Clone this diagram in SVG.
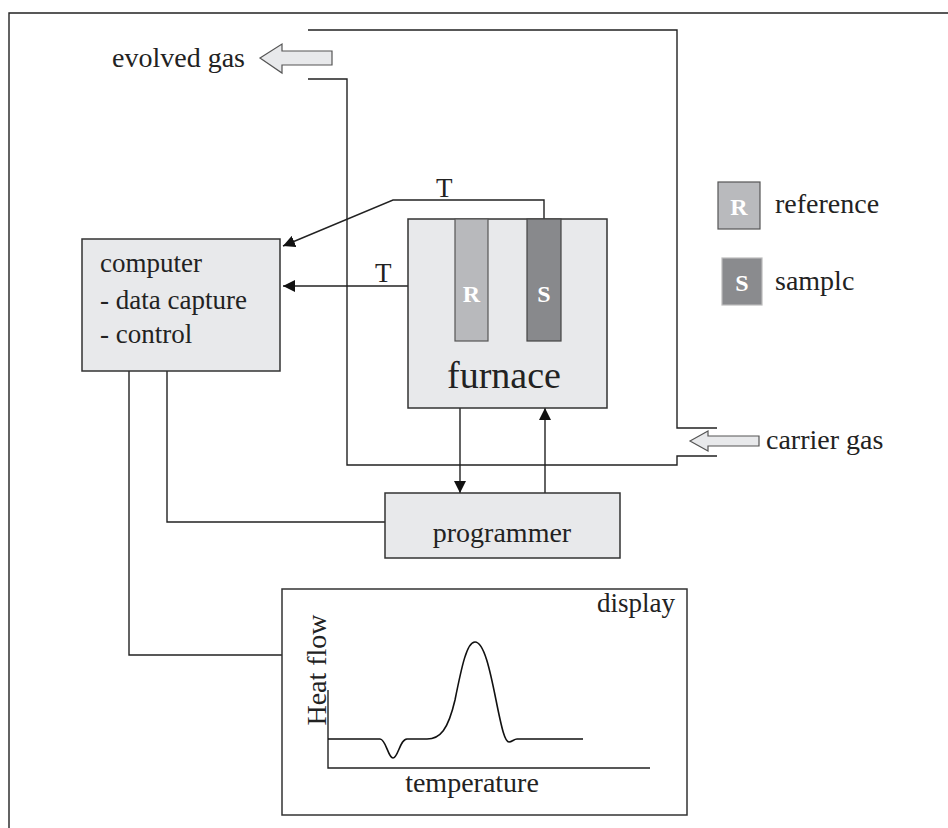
<svg xmlns="http://www.w3.org/2000/svg" width="948" height="828" viewBox="0 0 948 828">
<style>
text{font-family:"Liberation Serif","Times New Roman",serif;fill:#222}
.box{fill:#e8e9eb;stroke:#333;stroke-width:1.5}
.ln{fill:none;stroke:#222;stroke-width:1.4}
.blk{fill:#e8e9eb;stroke:#555;stroke-width:1.2}
.lbl{font-size:27px}
.wl{font-size:24px;font-weight:bold;fill:#fff}
</style>
<defs>
<marker id="ah" viewBox="0 0 10 10" refX="10" refY="5" markerWidth="12" markerHeight="12" markerUnits="userSpaceOnUse" orient="auto">
<path d="M0,0 L10,5 L0,10 z" fill="#111"/>
</marker>
</defs>
<rect width="948" height="828" fill="#fff"/>
<g id="frame">
<path class="ln" d="M9,828 V13 H948"/>
</g>
<g id="connectors">
<path class="ln" d="M308,30 H677 V428 H717"/>
<path class="ln" d="M308,79 H347 V465 H677 V456 H717"/>
<path class="ln" d="M544,219 V200 H393 L283,246" marker-end="url(#ah)"/>
<path class="ln" d="M453,286 H283" marker-end="url(#ah)"/>
<path class="ln" d="M129,371 V655 H282"/>
<path class="ln" d="M167,371 V522 H385"/>
<path class="ln" d="M460,408 V493" marker-end="url(#ah)"/>
<path class="ln" d="M545,493 V408" marker-end="url(#ah)"/>
<text class="lbl" x="436" y="197">T</text>
<text class="lbl" x="375" y="282">T</text>
</g>
<g id="evolved-gas">
<path class="blk" d="M260,58 L282,44 V51 H332 V65 H282 V73 z"/>
<text x="112" y="67" font-size="28">evolved gas</text>
</g>
<g id="carrier-gas">
<path class="blk" d="M690,441 L708,431 V436 H759 V446 H708 V451 z"/>
<text x="766" y="449" font-size="28">carrier gas</text>
</g>
<g id="furnace">
<rect class="box" x="408" y="219" width="199" height="189"/>
<rect x="455" y="219" width="33" height="122" fill="#b8b9bc" stroke="#555" stroke-width="1.2"/>
<rect x="527" y="219" width="34" height="122" fill="#88898c" stroke="#444" stroke-width="1.2"/>
<text class="wl" x="471.5" y="302" text-anchor="middle">R</text>
<text class="wl" x="544" y="302" text-anchor="middle">S</text>
<text x="504" y="388" font-size="38" text-anchor="middle">furnace</text>
</g>
<g id="computer">
<rect class="box" x="82" y="239" width="198" height="132"/>
<text class="lbl" x="100" y="272">computer</text>
<text class="lbl" x="100" y="309">- data capture</text>
<text class="lbl" x="100" y="343">- control</text>
</g>
<g id="programmer">
<rect class="box" x="385" y="493" width="235" height="65"/>
<text x="502" y="542" font-size="28" text-anchor="middle">programmer</text>
</g>
<g id="legend">
<rect x="718" y="182" width="42" height="47" fill="#b9babd" stroke="#555" stroke-width="1.2"/>
<text class="wl" x="739" y="215" text-anchor="middle">R</text>
<text x="775" y="213" font-size="28">reference</text>
<rect x="722" y="258" width="40" height="47" fill="#8a8b8e" stroke="#bbb" stroke-width="1.2"/>
<text class="wl" x="742" y="291" text-anchor="middle">S</text>
<text x="775" y="290" font-size="28">samplc</text>
</g>
<g id="display">
<rect x="282" y="589" width="405" height="226" fill="#fff" stroke="#333" stroke-width="1.5"/>
<text class="lbl" x="675" y="612" text-anchor="end">display</text>
<path class="ln" d="M328,690 V768 H650"/>
<path fill="none" stroke="#111" stroke-width="1.6" d="M328,739 H380 C386,739 388,758 393,758 C398,758 400,739 407,739 H427 C440,739 448,730 455,700 C462,665 467,642 475,642 C484,642 490,670 496,700 C502,730 505,742 509,742 C512,742 514,739 517,739 H583"/>
<text x="472" y="792" font-size="28" text-anchor="middle">temperature</text>
<text x="0" y="0" font-size="28" transform="translate(326,670) rotate(-90)" text-anchor="middle">Heat flow</text>
</g>
</svg>
